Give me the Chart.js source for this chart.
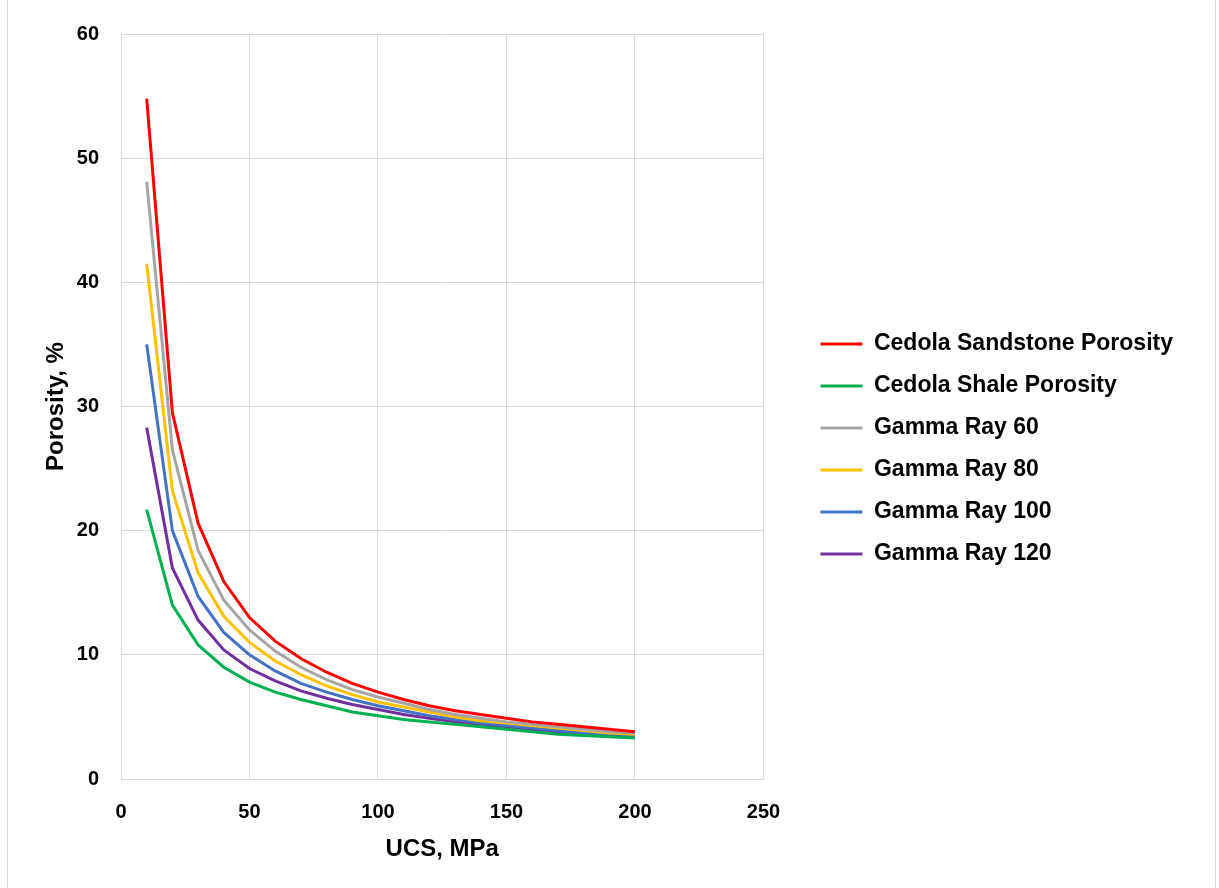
<!DOCTYPE html>
<html>
<head>
<meta charset="utf-8">
<script src="https://cdn.jsdelivr.net/npm/chart.js@4/dist/chart.umd.min.js"></script>
<style>
  html, body { margin: 0; padding: 0; background: #fff; }
  #wrap { position: relative; width: 1219px; height: 888px; }
  #wrap::before, #wrap::after { content: ''; position: absolute; top: 0; bottom: 0; width: 1px; background: #d9d9d9; }
  #wrap::before { left: 7px; }
  #wrap::after { left: 1215px; }
</style>
</head>
<body>
<div id="wrap"><canvas id="myChart" width="1219" height="888"></canvas></div>
<script>
const ucs = [10, 20, 30, 40, 50, 60, 70, 80, 90, 100, 110, 120, 130, 140, 150, 160, 170, 180, 190, 200]

const sandstone = [54.8, 29.5, 20.6, 15.9, 13.0, 11.1, 9.7, 8.6, 7.7, 7.0, 6.4, 5.9, 5.5, 5.2, 4.9, 4.6, 4.4, 4.2, 4.0, 3.8]
const shale     = [21.7, 14.0, 10.8, 9.0, 7.8, 7.0, 6.4, 5.9, 5.4, 5.1, 4.8, 4.6, 4.4, 4.2, 4.0, 3.8, 3.6, 3.5, 3.4, 3.3]
const gr60      = [48.1, 26.5, 18.4, 14.4, 12.0, 10.3, 9.0, 8.0, 7.2, 6.6, 6.1, 5.6, 5.2, 4.9, 4.6, 4.4, 4.2, 4.0, 3.8, 3.7]
const gr80      = [41.5, 23.2, 16.6, 13.1, 11.0, 9.5, 8.4, 7.5, 6.8, 6.2, 5.8, 5.4, 5.0, 4.7, 4.5, 4.3, 4.1, 3.9, 3.7, 3.6]
const gr100     = [35.0, 20.0, 14.7, 11.8, 10.0, 8.7, 7.7, 7.0, 6.4, 5.9, 5.5, 5.1, 4.8, 4.5, 4.3, 4.1, 3.9, 3.7, 3.6, 3.5]
const gr120     = [28.3, 17.0, 12.8, 10.4, 8.9, 7.9, 7.1, 6.5, 6.0, 5.6, 5.2, 4.9, 4.6, 4.4, 4.2, 4.0, 3.8, 3.7, 3.5, 3.4]

const seriesNames = ['Cedola Sandstone Porosity', 'Cedola Shale Porosity', 'Gamma Ray 60', 'Gamma Ray 80', 'Gamma Ray 100', 'Gamma Ray 120']
const seriesData = [sandstone, shale, gr60, gr80, gr100, gr120]
const seriesColors = ['#ff0000', '#00b050', '#a5a5a5', '#ffc000', '#4472c4', '#7030a0']

const fontFamily = '"Liberation Sans", Arial, sans-serif'
const gridColor = '#d9d9d9'

let toPoints = (ys) => ys.map((y, i) => ({ x: ucs[i], y: y }))

// push the legend a bit away from the plot area
const legendShift = {
  id: 'legendShift',
  afterLayout(chart) {
    let lg = chart.legend
    lg.left += 38; lg.right += 38
    lg.top -= 2; lg.bottom -= 2
  }
}

let ctx = document.getElementById('myChart')
let chart = new Chart(ctx, {
  type: 'line',
  data: {
    datasets: seriesNames.map((name, i) => ({
      label: name,
      data: toPoints(seriesData[i]),
      borderColor: seriesColors[i],
      backgroundColor: seriesColors[i],
      borderWidth: 3,
      pointRadius: 0,
      tension: 0,
      fill: false
    }))
  },
  options: {
    responsive: false,
    animation: false,
    layout: { padding: { left: 8, top: 33, right: 74, bottom: 19 } },
    scales: {
      x: {
        type: 'linear',
        min: 0, max: 250,
        ticks: { stepSize: 50, color: '#000', padding: 21, font: { family: fontFamily, size: 20, weight: 'bold' } },
        grid: { color: gridColor, lineWidth: 1, drawTicks: false },
        border: { color: gridColor },
        title: { display: true, text: 'UCS, MPa', color: '#000', padding: { top: 0, bottom: 5 }, font: { family: fontFamily, size: 24, weight: 'bold' } },
        afterFit: (s) => { s.height = 90 }
      },
      y: {
        min: 0, max: 60,
        ticks: { stepSize: 10, color: '#000', padding: 22, font: { family: fontFamily, size: 20, weight: 'bold' } },
        grid: { color: gridColor, lineWidth: 1, drawTicks: false },
        border: { color: gridColor },
        title: { display: true, text: 'Porosity, %', color: '#000', padding: { top: 34, bottom: 0 }, font: { family: fontFamily, size: 24, weight: 'bold' } },
        afterFit: (s) => { s.width = 113 }
      }
    },
    plugins: {
      legend: {
        position: 'right',
        align: 'center',
        maxWidth: 500,
        labels: {
          color: '#000',
          boxWidth: 42,
          boxHeight: 3,
          padding: 19,
          font: { family: fontFamily, size: 23, weight: 'bold' },
          generateLabels: (c) => c.data.datasets.map((d, i) => ({
            text: d.label,
            fillStyle: d.borderColor,
            strokeStyle: d.borderColor,
            lineWidth: 0,
            datasetIndex: i
          }))
        }
      },
      tooltip: { enabled: false }
    }
  },
  plugins: [legendShift]
})
</script>
</body>
</html>
